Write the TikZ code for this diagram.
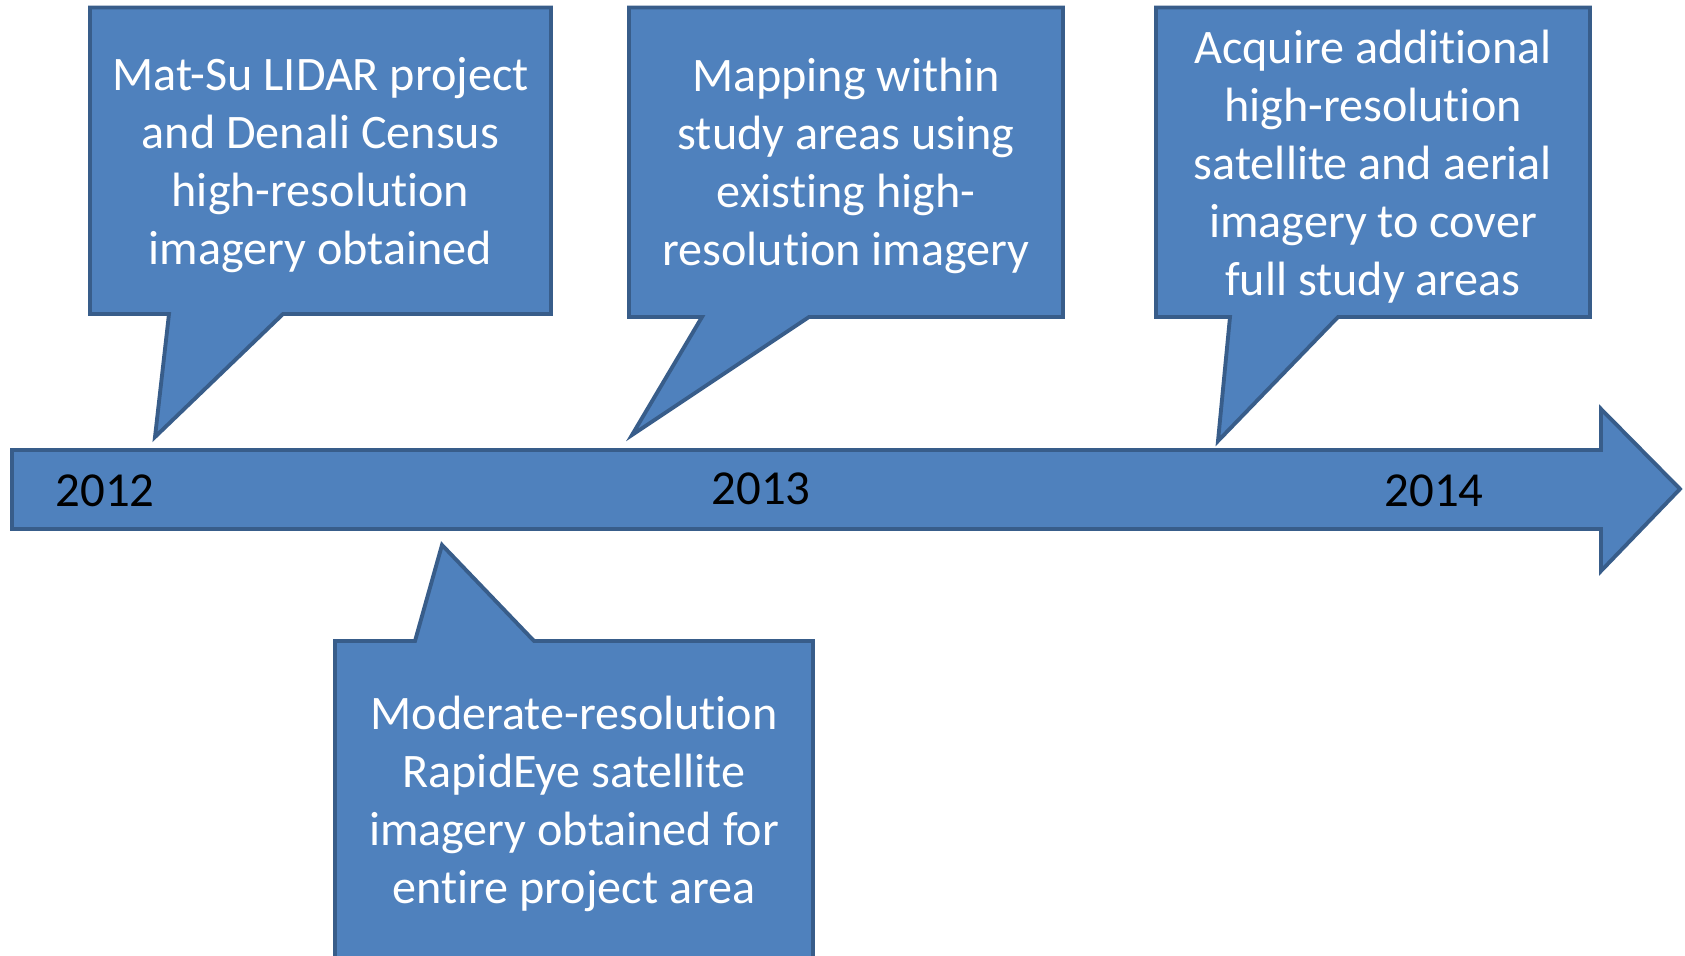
\documentclass[tikz,border=0pt]{standalone}
\usepackage{fontspec}
\setmainfont{Carlito}[Ligatures=NoCommon]
\definecolor{boxblue}{HTML}{4F81BD}
\definecolor{edgeblue}{HTML}{385D8A}
\tikzset{
  bubble/.style={fill=boxblue,draw=edgeblue,line width=1.1pt,line join=miter},
  boxtext/.style={text=white,align=center,font=\fontsize{13.7}{16.5}\selectfont},
  year/.style={font=\fontsize{13.9}{16.5}\selectfont}
}
\begin{document}
\begin{tikzpicture}
\useasboundingbox (0,0) rectangle (16.85,9.55);
\clip (0,0) rectangle (16.85,9.55);
\fill[white] (0,0) rectangle (16.85,9.55);

% timeline arrow
\draw[bubble] (0.12,5.05) -- (16.01,5.05) -- (16.01,5.46) -- (16.80,4.66)
  -- (16.01,3.84) -- (16.01,4.26) -- (0.12,4.26) -- cycle;

\node[year] (y2012) at (1.05,4.64) {2012};
\node[year] (y2013) at (7.61,4.66) {2013};
\node[year] (y2014) at (14.34,4.64) {2014};

% callouts above
\draw[bubble] (0.90,9.475) -- (5.51,9.475) -- (5.51,6.41) -- (2.83,6.41)
  -- (1.55,5.18) -- (1.69,6.41) -- (0.90,6.41) -- cycle;
\node[boxtext] (lidar) at (3.205,7.90) {Mat-Su LIDAR project\\and Denali Census\\high-resolution\\imagery obtained};

\draw[bubble] (6.29,9.475) -- (10.63,9.475) -- (10.63,6.38) -- (8.09,6.38)
  -- (6.32,5.20) -- (7.02,6.38) -- (6.29,6.38) -- cycle;
\node[boxtext] (mapping) at (8.46,7.89) {Mapping within\\study areas using\\existing high-\\resolution imagery};

\draw[bubble] (11.56,9.475) -- (15.90,9.475) -- (15.90,6.38) -- (13.38,6.38)
  -- (12.18,5.14) -- (12.30,6.38) -- (11.56,6.38) -- cycle;
\node[boxtext] (acquire) at (13.73,7.885) {Acquire additional\\high-resolution\\satellite and aerial\\imagery to cover\\full study areas};

% callout below
\draw[bubble] (3.35,-0.06) -- (3.35,3.14) -- (4.15,3.14) -- (4.42,4.10)
  -- (5.34,3.14) -- (8.13,3.14) -- (8.13,-0.06) -- cycle;
\node[boxtext] (rapideye) at (5.74,1.51) {Moderate-resolution\\RapidEye satellite\\imagery obtained for\\entire project area};
\end{tikzpicture}
\end{document}
